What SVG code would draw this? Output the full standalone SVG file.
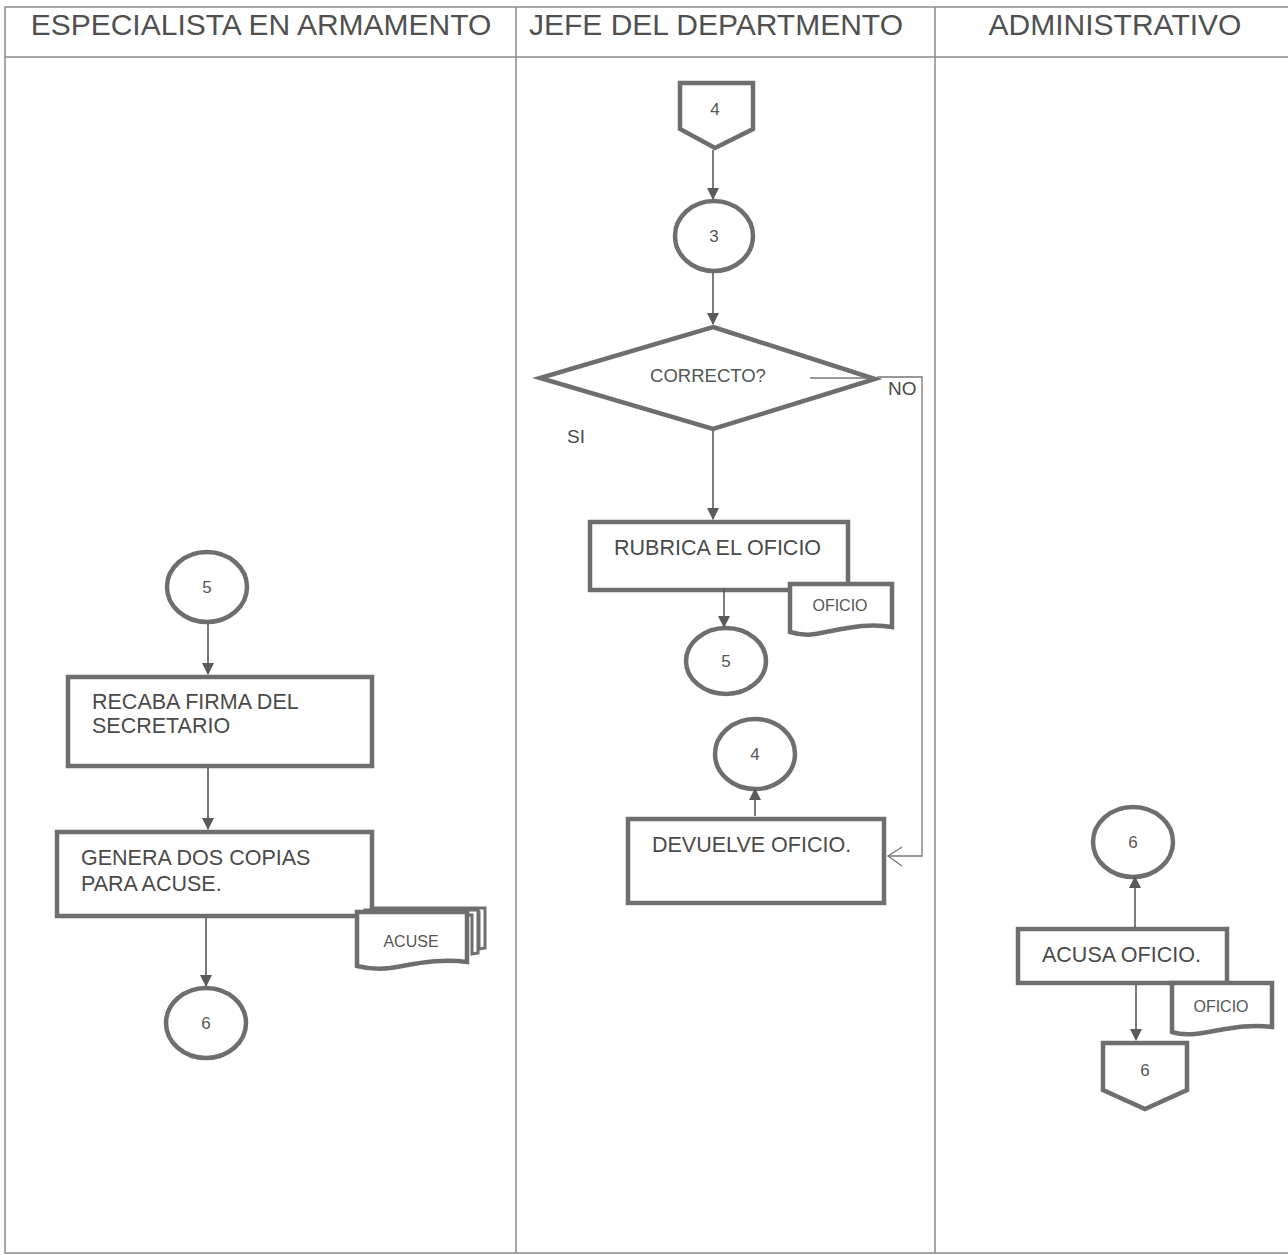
<svg xmlns="http://www.w3.org/2000/svg" width="1288" height="1255" viewBox="0 0 1288 1255">
<defs>
<style>
.lane{fill:none;stroke:#8a8a8a;stroke-width:1.5}
.hdr{font-family:"Liberation Sans",Arial,sans-serif;font-size:30px;fill:#505050}
.box{fill:#fff;stroke:#6e6e6e;stroke-width:4.5}
.conn{fill:#fff;stroke:#6e6e6e;stroke-width:4.5}
.doc{fill:#fff;stroke:#6e6e6e;stroke-width:3}
.t{font-family:"Liberation Sans",Arial,sans-serif;font-size:21.5px;fill:#4a4a4a}
.s{font-family:"Liberation Sans",Arial,sans-serif;font-size:17px;fill:#555;text-anchor:middle}
.q{font-family:"Liberation Sans",Arial,sans-serif;font-size:18.5px;fill:#555;text-anchor:middle}
.xs{font-family:"Liberation Sans",Arial,sans-serif;font-size:16px;fill:#555;text-anchor:middle}
.line{fill:none;stroke:#5a5a5a;stroke-width:1.6}
.thin{fill:none;stroke:#777;stroke-width:1.3}
</style>
<marker id="arr" viewBox="0 0 12 12" refX="11" refY="6" markerWidth="12" markerHeight="12" markerUnits="userSpaceOnUse" orient="auto">
<path d="M0,0 L12,6 L0,12 Z" fill="#5a5a5a"/>
</marker>
</defs>

<g id="lanes">
<rect class="lane" x="5" y="7" width="1290" height="1246"/>
<line class="lane" x1="5" y1="57" x2="1288" y2="57"/>
<line class="lane" x1="516" y1="7" x2="516" y2="1253"/>
<line class="lane" x1="935" y1="7" x2="935" y2="1253"/>
<text class="hdr" x="261" y="35" text-anchor="middle">ESPECIALISTA EN ARMAMENTO</text>
<text class="hdr" x="716" y="35" text-anchor="middle">JEFE DEL DEPARTMENTO</text>
<text class="hdr" x="1115" y="35" text-anchor="middle">ADMINISTRATIVO</text>
</g>

<g id="offpage-4">
<path class="conn" d="M680,83 L753,83 L753,129 L715,148 L680,129 Z"/>
<text class="s" x="715" y="115">4</text>
</g>

<g id="circle-3">
<ellipse class="conn" cx="714" cy="236" rx="39" ry="35"/>
<text class="s" x="714" y="242">3</text>
</g>

<g id="decision">
<path class="conn" d="M713,327 L875,379 L713,429 L540,378 Z"/>
<text class="q" x="708" y="382">CORRECTO?</text>
<text class="t" x="888" y="395" style="font-size:19px">NO</text>
<text class="t" x="567" y="443" style="font-size:19px">SI</text>
</g>

<g id="rubrica">
<rect class="box" x="590" y="522" width="258" height="68"/>
<text class="t" x="614" y="555">RUBRICA EL OFICIO</text>
</g>

<g id="doc-oficio-1">
<path class="box" d="M790,584 L892,584 L892,627 C865,622 840,630 815,634 C805,636 797,634 790,632 Z"/>
<text class="xs" x="840" y="611">OFICIO</text>
</g>

<g id="circle-5b">
<ellipse class="conn" cx="726" cy="661" rx="40" ry="33"/>
<text class="s" x="726" y="667">5</text>
</g>

<g id="circle-4">
<ellipse class="conn" cx="755" cy="754" rx="40" ry="35"/>
<text class="s" x="755" y="760">4</text>
</g>

<g id="devuelve">
<rect class="box" x="628" y="819" width="256" height="84"/>
<text class="t" x="652" y="852">DEVUELVE OFICIO.</text>
</g>

<g id="circle-5a">
<ellipse class="conn" cx="207" cy="587" rx="40" ry="35"/>
<text class="s" x="207" y="593">5</text>
</g>

<g id="recaba">
<rect class="box" x="68" y="677" width="304" height="89"/>
<text class="t" x="92" y="709">RECABA FIRMA DEL</text>
<text class="t" x="92" y="733">SECRETARIO</text>
</g>

<g id="genera">
<rect class="box" x="57" y="832" width="315" height="84"/>
<text class="t" x="81" y="865">GENERA DOS COPIAS</text>
<text class="t" x="81" y="891">PARA ACUSE.</text>
</g>

<g id="doc-acuse">
<path class="doc" d="M372,908 L485,908 L485,948 L479,949 L479,912 L372,912 Z"/>
<path class="doc" d="M365,910 L478,910 L478,953 L472,954 L472,915 L365,915 Z"/>
<path class="box" d="M357,912 L467,912 L467,962 C440,958 415,964 390,968 C375,970 365,968 357,966 Z"/>
<text class="xs" x="411" y="947">ACUSE</text>
</g>

<g id="circle-6a">
<ellipse class="conn" cx="206" cy="1023" rx="40" ry="35"/>
<text class="s" x="206" y="1029">6</text>
</g>

<g id="circle-6b">
<ellipse class="conn" cx="1133" cy="842" rx="40" ry="35"/>
<text class="s" x="1133" y="848">6</text>
</g>

<g id="acusa">
<rect class="box" x="1018" y="929" width="209" height="54"/>
<text class="t" x="1042" y="962">ACUSA OFICIO.</text>
</g>

<g id="doc-oficio-2">
<path class="box" d="M1172,983 L1272,983 L1272,1027 C1245,1023 1220,1031 1195,1034 C1185,1035 1178,1034 1172,1032 Z"/>
<text class="xs" x="1221" y="1012">OFICIO</text>
</g>

<g id="offpage-6">
<path class="conn" d="M1103,1043 L1187,1043 L1187,1090 L1145,1109 L1103,1090 Z"/>
<text class="s" x="1145" y="1076">6</text>
</g>

<g id="connectors">
<line class="line" x1="713" y1="150" x2="713" y2="199" marker-end="url(#arr)"/>
<line class="line" x1="713" y1="273" x2="713" y2="324" marker-end="url(#arr)"/>
<line class="line" x1="713" y1="431" x2="713" y2="519" marker-end="url(#arr)"/>
<line class="line" x1="724" y1="588" x2="724" y2="627" marker-end="url(#arr)"/>
<line class="line" x1="755" y1="816" x2="755" y2="789" marker-end="url(#arr)"/>
<line class="thin" x1="810" y1="378" x2="873" y2="378"/>
<polyline class="thin" points="877,377 922,377 922,856 888,856"/>
<polyline class="thin" points="902,847 888,856 902,866"/>
<line class="line" x1="208" y1="624" x2="208" y2="674" marker-end="url(#arr)"/>
<line class="line" x1="208" y1="768" x2="208" y2="829" marker-end="url(#arr)"/>
<line class="line" x1="206" y1="918" x2="206" y2="986" marker-end="url(#arr)"/>
<line class="line" x1="1135" y1="927" x2="1135" y2="877" marker-end="url(#arr)"/>
<line class="line" x1="1136" y1="985" x2="1136" y2="1040" marker-end="url(#arr)"/>
</g>
</svg>
